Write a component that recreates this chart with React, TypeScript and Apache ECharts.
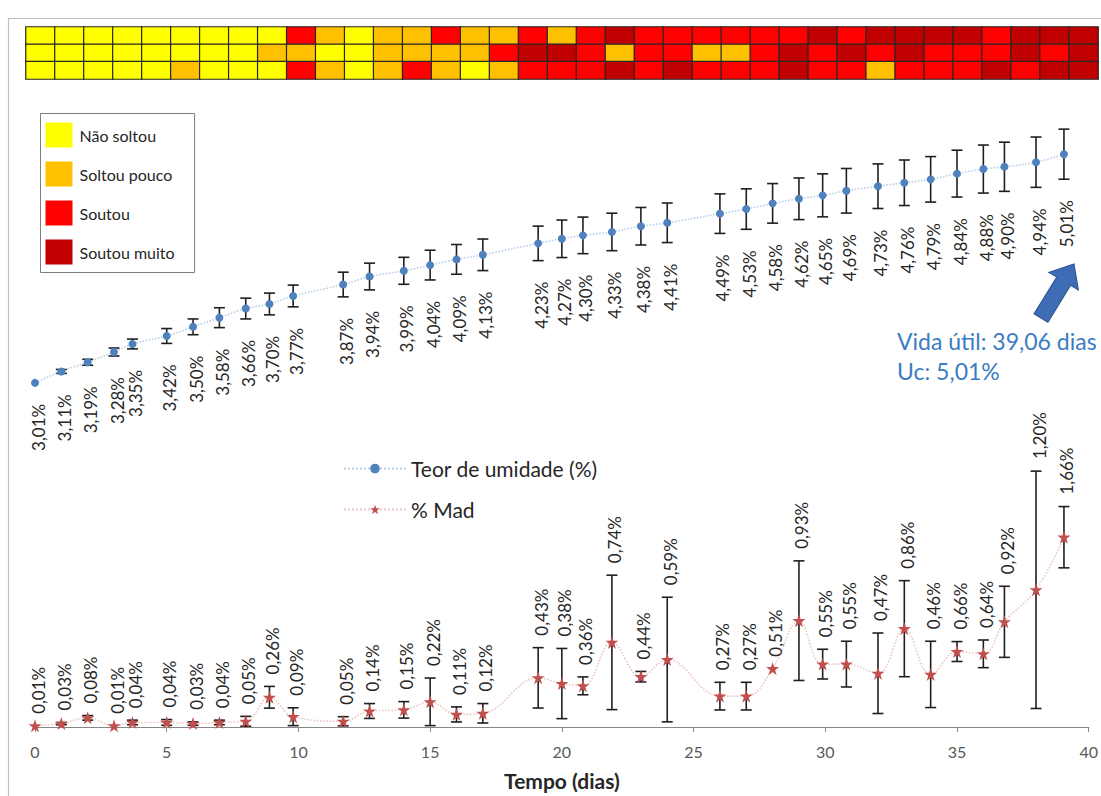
import React, { useEffect, useRef } from 'react';
import * as echarts from 'echarts';

// ---- data ----
const days = [0, 1, 2, 3, 3.7, 5, 6, 7, 8, 8.9, 9.8, 11.7, 12.7, 14, 15, 16, 17, 19.1, 20, 20.8, 21.9, 23, 24, 26, 27, 28, 29, 29.9, 30.8, 32, 33, 34, 35, 36, 36.8, 38, 39.06];

const teorUmidade = [3.01, 3.11, 3.19, 3.28, 3.35, 3.42, 3.5, 3.58, 3.66, 3.7, 3.77, 3.87, 3.94, 3.99, 4.04, 4.09, 4.13, 4.23, 4.27, 4.3, 4.33, 4.38, 4.41, 4.49, 4.53, 4.58, 4.62, 4.65, 4.69, 4.73, 4.76, 4.79, 4.84, 4.88, 4.9, 4.94, 5.01];
const teorUmidadeErr = [0, 0.017, 0.026, 0.035, 0.043, 0.065, 0.069, 0.087, 0.091, 0.095, 0.095, 0.108, 0.117, 0.118, 0.13, 0.13, 0.138, 0.151, 0.164, 0.16, 0.164, 0.164, 0.173, 0.173, 0.177, 0.173, 0.182, 0.188, 0.195, 0.195, 0.199, 0.199, 0.205, 0.21, 0.215, 0.22, 0.219];

const madPct = [0.01, 0.03, 0.08, 0.01, 0.04, 0.04, 0.03, 0.04, 0.05, 0.26, 0.09, 0.05, 0.14, 0.15, 0.22, 0.11, 0.12, 0.43, 0.38, 0.36, 0.74, 0.44, 0.59, 0.27, 0.27, 0.51, 0.93, 0.55, 0.55, 0.47, 0.86, 0.46, 0.66, 0.64, 0.92, 1.2, 1.66];
const madErr = [0, 0.01, 0.02, 0, 0.02, 0.025, 0.015, 0.02, 0.043, 0.095, 0.078, 0.04, 0.065, 0.072, 0.208, 0.066, 0.085, 0.264, 0.307, 0.078, 0.588, 0.046, 0.545, 0.121, 0.121, 0, 0.523, 0.13, 0.2, 0.352, 0.42, 0.29, 0.087, 0.121, 0.311, 1.038, 0.268];

// heat strip: 0 = Não soltou, 1 = Soltou pouco, 2 = Soutou, 3 = Soutou muito
const heatRowTop = [0, 0, 0, 0, 0, 0, 0, 0, 0, 2, 1, 0, 1, 1, 2, 1, 1, 2, 1, 2, 3, 2, 2, 2, 2, 2, 2, 3, 2, 3, 3, 3, 3, 2, 3, 3, 3];
const heatRowMid = [0, 0, 0, 0, 0, 0, 0, 0, 1, 1, 0, 0, 1, 1, 1, 1, 2, 3, 3, 2, 1, 2, 2, 1, 1, 2, 3, 2, 3, 2, 3, 2, 2, 2, 3, 2, 3];
const heatRowBot = [0, 0, 0, 0, 0, 1, 0, 0, 0, 2, 1, 0, 1, 2, 1, 0, 1, 2, 2, 2, 3, 2, 3, 2, 2, 2, 3, 2, 2, 1, 2, 2, 2, 3, 2, 3, 3];

const releaseLabels = ['Não soltou', 'Soltou pouco', 'Soutou', 'Soutou muito'];
const releaseColors = ['#FFFF00', '#FFC000', '#FF0000', '#C00000'];

const seriesNames = ['Teor de umidade (%)', '% Mad'];
const axisName = 'Tempo (dias)';
const noteLines = ['Vida útil: 39,06 dias', 'Uc: 5,01%'];

const STAR = 'path://M50,2 L62,37 L99,37 L69,59 L80,95 L50,73 L20,95 L31,59 L1,37 L38,37 Z';
const FONT = 'Lato';

function fmt(v: number) {
  return v.toFixed(2).replace('.', ',') + '%';
}

function makeRenderer(side: 'below' | 'above') {
  return (params: any, api: any) => {
    const x = api.value(0);
    const y = api.value(1);
    const e = api.value(2);
    const p = api.coord([x, y]);
    const hi = api.coord([x, y + e]);
    const lo = api.coord([x, y - e]);
    const stroke = '#1f1f1f';
    const children: any[] = [];
    if (e > 0) {
      children.push({ type: 'line', shape: { x1: p[0], y1: hi[1], x2: p[0], y2: lo[1] }, style: { stroke, lineWidth: 1.6 } });
      children.push({ type: 'line', shape: { x1: p[0] - 5.5, y1: hi[1], x2: p[0] + 5.5, y2: hi[1] }, style: { stroke, lineWidth: 1.6 } });
      children.push({ type: 'line', shape: { x1: p[0] - 5.5, y1: lo[1], x2: p[0] + 5.5, y2: lo[1] }, style: { stroke, lineWidth: 1.6 } });
    }
    const text = fmt(y);
    if (side === 'below') {
      children.push({
        type: 'text', x: p[0] + 3, y: lo[1] + 21, rotation: Math.PI / 2,
        style: { text, fill: '#262626', fontSize: 17, fontFamily: FONT, align: 'right', verticalAlign: 'middle' },
      });
    } else {
      children.push({
        type: 'text', x: p[0] + 3, y: hi[1] - 12, rotation: Math.PI / 2,
        style: { text, fill: '#262626', fontSize: 17, fontFamily: FONT, align: 'left', verticalAlign: 'middle' },
      });
    }
    return { type: 'group', children };
  };
}

export default function App() {
  const ref = useRef<HTMLDivElement>(null);

  useEffect(() => {
    if (!ref.current) return;
    const chart = echarts.init(ref.current, undefined, { renderer: 'svg' });

    const heatData: number[][] = [];
    [heatRowTop, heatRowMid, heatRowBot].forEach((row, r) => {
      row.forEach((v, c) => heatData.push([c, r, v]));
    });

    const option: any = {
      animation: false,
      backgroundColor: '#ffffff',
      textStyle: { fontFamily: FONT },
      grid: [
        { left: 35, right: 6, top: 41, bottom: 62 },
        { left: 26, top: 27, width: 1072, height: 52 },
      ],
      xAxis: [
        {
          type: 'value', gridIndex: 0, min: 0, max: 40, interval: 5,
          axisLine: { lineStyle: { color: '#868686', width: 1.2 } },
          axisTick: { show: true, length: 5, lineStyle: { color: '#868686' } },
          axisLabel: { color: '#595959', fontSize: 16, margin: 16, fontFamily: FONT },
          splitLine: { show: false },
          name: axisName, nameLocation: 'middle', nameGap: 43,
          nameTextStyle: { fontSize: 21, fontWeight: 'bold', color: '#262626', fontFamily: FONT },
        },
        {
          type: 'category', gridIndex: 1, data: heatRowTop.map((_, i) => String(i + 1)), show: false,
        },
      ],
      yAxis: [
        { type: 'value', gridIndex: 0, min: 0, max: 6, show: false, splitLine: { show: false } },
        { type: 'category', gridIndex: 1, data: ['1', '2', '3'], inverse: true, show: false },
      ],
      visualMap: {
        type: 'piecewise',
        seriesIndex: 4,
        orient: 'vertical',
        inverse: true,
        left: 40,
        top: 113,
        itemWidth: 27,
        itemHeight: 25,
        itemGap: 14,
        itemSymbol: 'rect',
        textGap: 7,
        padding: [9, 20, 8, 5],
        borderColor: '#7F7F7F',
        borderWidth: 1,
        backgroundColor: '#ffffff',
        selectedMode: false,
        textStyle: { color: '#262626', fontSize: 16, fontFamily: FONT },
        pieces: releaseLabels.map((label, i) => ({ value: i, label, color: releaseColors[i] })),
      },
      legend: {
        data: seriesNames,
        orient: 'vertical',
        left: 338,
        top: 453,
        itemWidth: 62,
        itemHeight: 12,
        itemGap: 20,
        textStyle: { color: '#262626', fontSize: 21, fontFamily: FONT },
      },
      series: [
        {
          name: 'errUmidade', type: 'custom', xAxisIndex: 0, yAxisIndex: 0,
          data: days.map((d, i) => [d, teorUmidade[i], teorUmidadeErr[i]]),
          encode: { x: 0, y: 1 },
          renderItem: makeRenderer('below'),
          z: 3,
        },
        {
          name: 'errMad', type: 'custom', xAxisIndex: 0, yAxisIndex: 0,
          data: days.map((d, i) => [d, madPct[i], madErr[i]]),
          encode: { x: 0, y: 1 },
          renderItem: makeRenderer('above'),
          z: 3,
        },
        {
          name: seriesNames[0], type: 'line', xAxisIndex: 0, yAxisIndex: 0,
          data: days.map((d, i) => [d, teorUmidade[i]]),
          smooth: 0.4,
          symbol: 'circle', symbolSize: 8,
          itemStyle: { color: '#4F81BD' },
          lineStyle: { color: 'rgba(120,160,210,0.5)', width: 1.6, type: 'dotted' },
          z: 4,
        },
        {
          name: seriesNames[1], type: 'line', xAxisIndex: 0, yAxisIndex: 0,
          data: days.map((d, i) => [d, madPct[i]]),
          smooth: 0.4,
          symbol: STAR, symbolSize: 13,
          itemStyle: { color: '#C0504D' },
          lineStyle: { color: 'rgba(210,110,110,0.4)', width: 1.6, type: 'dotted' },
          z: 4,
        },
        {
          name: 'heat', type: 'heatmap', xAxisIndex: 1, yAxisIndex: 1,
          data: heatData,
          itemStyle: { borderColor: '#262626', borderWidth: 1.2 },
          emphasis: { disabled: true },
        },
      ],
      graphic: [
        {
          type: 'rect', z: 0, silent: true,
          shape: { x: 8.5, y: 18.5, width: 1200, height: 900 },
          style: { fill: 'none', stroke: '#BFBFBF', lineWidth: 1.2 },
        },
        {
          type: 'polygon', z: 10,
          shape: {
            points: [
              [1047.9, 322.1], [1070.6, 285.2], [1078.3, 289.8], [1074, 264],
              [1049.1, 272.4], [1056.8, 277.0], [1034.1, 313.9],
            ],
          },
          style: { fill: '#3E6DB5', stroke: '#2F5597', lineWidth: 1.2 },
        },
        {
          type: 'text', z: 10, x: 897, y: 341,
          style: { text: noteLines[0], fill: '#3A7DC4', fontSize: 23, fontFamily: FONT, verticalAlign: 'middle' },
        },
        {
          type: 'text', z: 10, x: 897, y: 371,
          style: { text: noteLines[1], fill: '#3A7DC4', fontSize: 23, fontFamily: FONT, verticalAlign: 'middle' },
        },
      ],
    };

    chart.setOption(option);
    return () => chart.dispose();
  }, []);

  return (
    <div
      ref={ref}
      style={{ position: 'fixed', left: 0, top: 0, width: 1101, height: 796, background: '#fff' }}
    />
  );
}
